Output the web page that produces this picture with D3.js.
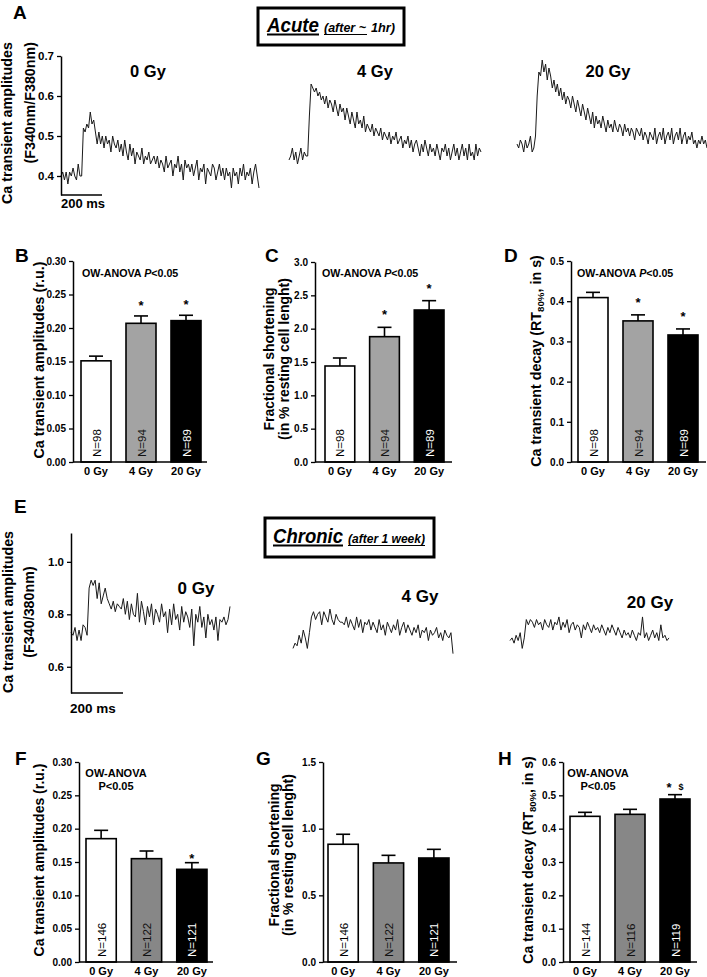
<!DOCTYPE html>
<html><head><meta charset="utf-8">
<script src="https://cdn.jsdelivr.net/npm/d3@7"></script>
<style>
body{margin:0;background:#fff}
svg{display:block}
text{font-family:"Liberation Sans",Arial,sans-serif}
</style>
</head><body><svg id="c" width="707" height="977"></svg>
<script>
// ---------------- DATA ----------------
const doses = ["0 Gy", "4 Gy", "20 Gy"];

// Panel A: acute Ca transients (F340nm/F380nm)
const traceA0 = [0.40,0.41,0.39,0.41,0.38,0.41,0.40,0.42,0.40,0.39,0.43,0.40,0.40,
  0.52,0.51,0.53,0.52,0.56,0.53,0.54,0.51,
  0.48,0.51,0.48,0.50,0.47,0.50,0.48,0.49,0.46,0.50,0.48,0.47,0.49,0.46,
  0.48,0.45,0.49,0.46,0.44,0.48,0.45,0.47,0.43,0.46,0.45,0.44,0.47,0.43,0.45,0.44,0.46,0.43,0.44,0.45,
  0.43,0.45,0.42,0.44,0.43,0.41,0.45,0.42,0.43,0.44,0.40,0.43,0.42,0.45,0.41,0.43,0.39,0.44,0.42,0.43,
  0.41,0.43,0.40,0.42,0.44,0.39,0.42,0.41,0.43,0.38,0.42,0.41,0.40,0.43,0.42,0.39,0.41,0.43,0.40,0.42,
  0.39,0.42,0.40,0.41,0.37,0.42,0.40,0.41,0.38,0.42,0.40,0.43,0.39,0.41,0.40,0.42,0.38,0.41,0.43,0.40,0.37];
const traceA4 = [0.44,0.45,0.47,0.44,0.46,0.43,0.45,0.47,0.44,0.46,0.45,0.45,
  0.55,0.63,0.62,0.61,0.62,0.60,0.61,0.59,0.60,
  0.58,0.60,0.57,0.59,0.58,0.56,0.59,0.57,0.55,0.58,
  0.56,0.57,0.54,0.57,0.55,0.53,0.56,0.54,0.52,0.56,
  0.53,0.54,0.52,0.55,0.51,0.53,0.52,0.51,0.53,0.50,
  0.52,0.51,0.50,0.52,0.49,0.51,0.50,0.49,0.51,0.48,
  0.50,0.49,0.51,0.48,0.49,0.50,0.47,0.49,0.48,0.50,
  0.47,0.49,0.46,0.48,0.49,0.47,0.45,0.48,0.46,0.49,
  0.47,0.45,0.48,0.46,0.47,0.45,0.48,0.46,0.44,0.47,
  0.46,0.48,0.45,0.47,0.44,0.46,0.48,0.45,0.47,0.44,
  0.46,0.48,0.45,0.47,0.44,0.48,0.45,0.46,0.44,0.48,
  0.45,0.47,0.46];
const traceA20 = [0.48,0.47,0.49,0.48,0.46,0.49,0.47,0.48,0.50,0.46,0.47,0.50,
  0.60,0.66,0.65,0.69,0.66,0.68,0.64,0.67,
  0.65,0.62,0.64,0.61,0.63,0.60,0.62,0.59,0.61,0.58,
  0.60,0.59,0.57,0.60,0.58,0.56,0.59,0.57,0.55,0.58,
  0.56,0.54,0.57,0.55,0.53,0.56,0.52,0.55,0.53,0.54,
  0.52,0.55,0.53,0.51,0.54,0.52,0.53,0.51,0.54,0.52,
  0.51,0.53,0.52,0.50,0.53,0.51,0.52,0.50,0.52,0.51,
  0.49,0.52,0.51,0.50,0.52,0.49,0.51,0.50,0.48,0.51,
  0.50,0.49,0.52,0.48,0.50,0.51,0.49,0.52,0.48,0.50,
  0.51,0.49,0.52,0.48,0.50,0.51,0.49,0.52,0.48,0.50,
  0.51,0.48,0.50,0.49,0.51,0.48,0.49,0.47,0.49,0.48,
  0.50,0.48,0.49,0.47];
const traceATicks = [0.4, 0.5, 0.6, 0.7];

// Panel E: chronic Ca transients (F340/380nm)
const traceE0 = [0.73,0.72,0.75,0.70,0.74,0.70,0.76,0.75,0.72,
  0.90,0.93,0.91,0.93,0.86,0.92,0.84,0.87,0.90,0.86,
  0.84,0.82,0.85,0.81,0.84,0.83,0.82,0.86,0.80,0.85,
  0.78,0.84,0.80,0.79,0.88,0.77,0.85,0.81,0.76,0.83,
  0.79,0.84,0.76,0.82,0.80,0.77,0.84,0.79,0.81,0.73,
  0.82,0.76,0.84,0.78,0.80,0.74,0.83,0.77,0.81,0.79,
  0.75,0.82,0.68,0.80,0.77,0.83,0.75,0.79,0.71,0.80,
  0.76,0.78,0.74,0.79,0.70,0.78,0.77,0.79,0.76,0.78,0.83];
const traceE4 = [0.67,0.69,0.68,0.72,0.69,0.74,0.71,0.67,0.73,
  0.79,0.81,0.78,0.80,0.81,0.76,0.81,0.79,0.77,0.82,
  0.78,0.76,0.80,0.78,0.77,0.77,0.76,0.79,0.75,0.78,
  0.76,0.74,0.79,0.75,0.78,0.73,0.77,0.76,0.78,0.74,
  0.77,0.75,0.73,0.78,0.74,0.76,0.72,0.77,0.75,0.73,
  0.76,0.74,0.78,0.72,0.75,0.77,0.73,0.76,0.74,0.72,
  0.75,0.73,0.76,0.71,0.74,0.73,0.75,0.70,0.74,0.72,
  0.73,0.75,0.71,0.73,0.70,0.74,0.72,0.71,0.73,0.65];
const traceE20 = [0.70,0.71,0.69,0.72,0.70,0.73,0.67,0.71,
  0.78,0.76,0.78,0.77,0.75,0.78,0.76,0.77,0.74,0.78,
  0.76,0.75,0.78,0.74,0.77,0.76,0.79,0.74,0.77,0.75,
  0.78,0.73,0.76,0.77,0.74,0.76,0.75,0.71,0.76,0.74,
  0.77,0.75,0.73,0.76,0.74,0.75,0.73,0.76,0.74,0.72,
  0.75,0.73,0.76,0.74,0.72,0.75,0.73,0.71,0.74,0.72,
  0.73,0.71,0.74,0.72,0.70,0.73,0.72,0.79,0.71,0.73,
  0.70,0.72,0.74,0.71,0.73,0.70,0.76,0.71,0.72,0.70,0.71];
const traceETicks = [0.6, 0.8, 1.0];
const scaleBarMs = 200;

// Acute bar data
const acuteAmp = [0.151, 0.207, 0.211];
const acuteAmpErr = [0.007, 0.011, 0.008];
const acuteFS = [1.44, 1.88, 2.28];
const acuteFSErr = [0.12, 0.14, 0.14];
const acuteDecay = [0.409, 0.351, 0.316];
const acuteDecayErr = [0.013, 0.015, 0.015];
const acuteN = ["N=98", "N=94", "N=89"];
const acuteAmpSig = ["", "*", "*"];
const acuteFSSig = ["", "*", "*"];
const acuteDecaySig = ["", "*", "*"];

// Chronic bar data
const chronicAmp = [0.185, 0.155, 0.139];
const chronicAmpErr = [0.0125, 0.0115, 0.010];
const chronicFS = [0.883, 0.743, 0.780];
const chronicFSErr = [0.075, 0.057, 0.065];
const chronicDecay = [0.437, 0.443, 0.489];
const chronicDecayErr = [0.012, 0.015, 0.013];
const chronicN = ["N=146", "N=122", "N=121"];
const chronicDecayN = ["N=144", "N=116", "N=119"];
const chronicAmpSig = ["", "", "*"];
const chronicFSSig = ["", "", ""];
const chronicDecaySig = ["", "", "* $"];

// Tick values
const ampTicks = [0, 0.05, 0.10, 0.15, 0.20, 0.25, 0.30];
const acuteFSTicks = [0, 0.5, 1.0, 1.5, 2.0, 2.5, 3.0];
const decayTicks = [0, 0.1, 0.2, 0.3, 0.4, 0.5];
const chronicFSTicks = [0, 0.5, 1.0, 1.5];
const chronicDecayTicks = [0, 0.1, 0.2, 0.3, 0.4, 0.5, 0.6];

// ---------------- DRAWING ----------------
const svg = d3.select("#c");
const FONT = '"Liberation Sans", Arial, sans-serif';
const acuteFills = ["#ffffff", "#a3a3a3", "#000000"];
const chronicFills = ["#ffffff", "#878787", "#000000"];
const nColors = ["#000", "#111", "#fff"];

function txt(x, y, s, o = {}) {
  const t = svg.append("text").attr("x", x).attr("y", y).text(s)
    .attr("font-size", o.size || 12).attr("font-weight", o.weight || "bold")
    .attr("text-anchor", o.anchor || "start").attr("fill", o.fill || "#000");
  if (o.family) t.attr("font-family", o.family);
  if (o.style) t.attr("font-style", o.style);
  return t;
}

function rotLabel(cx, cy, lines, size, anchor) {
  lines.forEach(l => {
    const t = svg.append("text")
      .attr("transform", `translate(${l.x},${cy}) rotate(-90)`)
      .attr("text-anchor", anchor || "middle")
      .attr("dominant-baseline", "central")
      .attr("font-size", size).attr("font-weight", "bold").attr("fill", "#000");
    if (typeof l.t === "string") t.text(l.t);
    else l.t.forEach(p => {
      const ts = t.append("tspan").text(p.s);
      if (p.sub) ts.attr("font-size", size * 0.68).attr("dy", 4);
      if (p.back) ts.attr("dy", -4);
    });
  });
}

function styleAxis(ax, fs) {
  ax.select(".domain").attr("stroke", "#000").attr("stroke-width", 1.5);
  ax.selectAll(".tick line").attr("stroke", "#000").attr("stroke-width", 1.3);
  ax.selectAll(".tick text").attr("font-size", fs).attr("font-weight", "bold")
    .attr("font-family", FONT).attr("fill", "#000");
}

function barPanel(o) {
  const y = d3.scaleLinear().domain(o.domain).range([o.yBot, o.yTop]);
  const x = d3.scaleBand().domain(doses).range([o.barL, o.barR]).paddingInner(1 / 3).paddingOuter(0);
  const g = svg.append("g");
  const bw = x.bandwidth();
  const cx = i => x(doses[i]) + bw / 2;

  g.selectAll("rect.bar").data(o.values).join("rect").attr("class", "bar")
    .attr("x", (d, i) => x(doses[i])).attr("y", d => y(d))
    .attr("width", bw).attr("height", d => o.yBot - y(d))
    .attr("fill", (d, i) => o.fills[i]).attr("stroke", "#000").attr("stroke-width", 1.6);

  o.values.forEach((v, i) => {
    const top = y(v + o.errs[i]);
    g.append("line").attr("x1", cx(i)).attr("x2", cx(i)).attr("y1", y(v)).attr("y2", top)
      .attr("stroke", "#000").attr("stroke-width", 1.6);
    g.append("line").attr("x1", cx(i) - 7).attr("x2", cx(i) + 7).attr("y1", top).attr("y2", top)
      .attr("stroke", "#000").attr("stroke-width", 1.6);
    if (o.sig[i]) {
      const parts = o.sig[i].split(" ");
      const t = g.append("text").attr("x", parts[1] ? cx(i) - 6 : cx(i)).attr("y", top - o.starGap + 7)
        .attr("text-anchor", "middle").attr("font-size", 13).attr("font-weight", "bold").attr("fill", "#000")
        .text(parts[0]);
      if (parts[1]) g.append("text").attr("x", cx(i) + 6).attr("y", top - o.starGap + 5)
        .attr("text-anchor", "middle").attr("font-size", 9).attr("font-weight", "bold").attr("fill", "#000")
        .text(parts[1]);
    }
    g.append("text").attr("transform", `translate(${cx(i) + 0.5},${o.yBot - 5}) rotate(-90)`)
      .attr("dominant-baseline", "central").attr("font-size", 11.5)
      .attr("fill", nColors[i]).text(o.ns[i]);
  });

  const ax = g.append("g").attr("transform", `translate(${o.axisX},0)`)
    .call(d3.axisLeft(y).tickValues(o.ticks).tickFormat(d3.format(o.fmt)).tickSize(4).tickSizeOuter(0).tickPadding(3));
  styleAxis(ax, 10);
  g.append("line").attr("x1", o.axisX).attr("x2", o.xEnd).attr("y1", o.yBot).attr("y2", o.yBot)
    .attr("stroke", "#000").attr("stroke-width", 1.5);
  doses.forEach((d, i) => {
    g.append("text").attr("x", cx(i)).attr("y", o.yBot + 13).attr("text-anchor", "middle")
      .attr("font-size", 11).attr("font-weight", "bold").attr("fill", "#000").text(d);
  });
}

function tracePath(vals, x0, x1, yScale) {
  const xs = d3.scaleLinear().domain([0, vals.length - 1]).range([x0, x1]);
  svg.append("path").datum(vals)
    .attr("d", d3.line().x((d, i) => xs(i)).y(d => yScale(d)))
    .attr("fill", "none").attr("stroke", "#1a1a1a").attr("stroke-width", 1).attr("stroke-linejoin", "round");
}

function titleBox(bx, by, bw, bh, parts) {
  svg.append("rect").attr("x", bx).attr("y", by).attr("width", bw).attr("height", bh)
    .attr("fill", "#fff").attr("stroke", "#000").attr("stroke-width", 3);
  parts.forEach(p => {
    svg.append("text").attr("x", p.x).attr("y", p.y).text(p.s)
      .attr("font-family", "Lato, 'Open Sans', sans-serif").attr("font-style", "italic").attr("font-weight", "bold")
      .attr("font-size", p.size).attr("textLength", p.len).attr("lengthAdjust", "spacingAndGlyphs").attr("fill", "#000");
    if (p.ul) svg.append("line").attr("x1", p.x).attr("x2", p.x + p.ul).attr("y1", p.y + 2.5).attr("y2", p.y + 2.5)
      .attr("stroke", "#000").attr("stroke-width", p.size > 15 ? 1.8 : 1.2);
  });
}

// ---- Panel letters ----
[["A", 13, 19], ["B", 15, 262], ["C", 265, 262], ["D", 504, 262], ["E", 14, 513],
 ["F", 15, 765], ["G", 256, 765], ["H", 498, 765]].forEach(([s, x, y]) => txt(x, y, s, { size: 19 }));

// ---- Title boxes ----
titleBox(258, 8, 146, 37, [
  { s: "Acute", x: 267, y: 32, size: 21, len: 52, ul: 52 },
  { s: "(after ~", x: 324, y: 32, size: 12, len: 42, ul: 43 },
  { s: "1hr)", x: 371, y: 32, size: 12, len: 24 }
]);
titleBox(265, 518, 169, 39, [
  { s: "Chronic", x: 273, y: 543, size: 21, len: 70, ul: 70 },
  { s: "(after 1 week)", x: 348, y: 543, size: 12, len: 77, ul: 77 }
]);

// ---- Panel A traces ----
const yA = d3.scaleLinear().domain([0.3525, 0.7]).range([195, 56]);
tracePath(traceA0, 61, 259, yA);
tracePath(traceA4, 289, 481, yA);
tracePath(traceA20, 517, 707, yA);
const axA = svg.append("g").attr("transform", "translate(61,0)")
  .call(d3.axisLeft(yA).tickValues(traceATicks).tickFormat(d3.format(".1f")).tickSize(4).tickSizeOuter(0).tickPadding(3));
styleAxis(axA, 11.5);
const tA = d3.scaleLinear().domain([0, scaleBarMs]).range([61, 102]);
svg.append("line").attr("x1", tA(0)).attr("x2", tA(scaleBarMs)).attr("y1", 195).attr("y2", 195)
  .attr("stroke", "#000").attr("stroke-width", 1.5);
txt(61, 208, scaleBarMs + " ms", { size: 13 });
txt(148, 77, doses[0], { size: 16.5, anchor: "middle" });
txt(375, 77, doses[1], { size: 16.5, anchor: "middle" });
txt(608, 77, doses[2], { size: 16.5, anchor: "middle" });
rotLabel(0, 42, [{ x: 7, t: "Ca transient amplitudes" }, { x: 29.5, t: "(F340nm/F380nm)" }], 14.3, "end");

// ---- Panel E traces ----
const yE = d3.scaleLinear().domain([0.5, 1.11]).range([693, 533]);
tracePath(traceE0, 71, 230, yE);
tracePath(traceE4, 293, 453, yE);
tracePath(traceE20, 510, 669, yE);
const axE = svg.append("g").attr("transform", "translate(71,0)")
  .call(d3.axisLeft(yE).tickValues(traceETicks).tickFormat(d3.format(".1f")).tickSize(4).tickSizeOuter(0).tickPadding(3));
styleAxis(axE, 11.5);
const tE = d3.scaleLinear().domain([0, scaleBarMs]).range([71, 123]);
svg.append("line").attr("x1", tE(0)).attr("x2", tE(scaleBarMs)).attr("y1", 693).attr("y2", 693)
  .attr("stroke", "#000").attr("stroke-width", 1.5);
txt(70, 713, scaleBarMs + " ms", { size: 13.5 });
txt(196, 594, doses[0], { size: 17, anchor: "middle" });
txt(420, 602, doses[1], { size: 17, anchor: "middle" });
txt(650, 608, doses[2], { size: 17, anchor: "middle" });
rotLabel(0, 612, [{ x: 8, t: "Ca transient amplitudes" }, { x: 28.5, t: "(F340/380nm)" }], 14.3);

// ---- Bar panels ----
barPanel({ values: acuteAmp, errs: acuteAmpErr, ns: acuteN, sig: acuteAmpSig, fills: acuteFills,
  domain: [0, 0.30], ticks: ampTicks, fmt: ".2f",
  axisX: 73, yTop: 261, yBot: 462, barL: 81, barR: 201, xEnd: 207, starGap: 13 });
barPanel({ values: acuteFS, errs: acuteFSErr, ns: acuteN, sig: acuteFSSig, fills: acuteFills,
  domain: [0, 3.0], ticks: acuteFSTicks, fmt: ".1f",
  axisX: 315, yTop: 262, yBot: 462, barL: 325, barR: 444, xEnd: 452, starGap: 15 });
barPanel({ values: acuteDecay, errs: acuteDecayErr, ns: acuteN, sig: acuteDecaySig, fills: acuteFills,
  domain: [0, 0.5], ticks: decayTicks, fmt: ".1f",
  axisX: 571, yTop: 261, yBot: 462, barL: 578, barR: 698, xEnd: 706, starGap: 15 });
barPanel({ values: chronicAmp, errs: chronicAmpErr, ns: chronicN, sig: chronicAmpSig, fills: chronicFills,
  domain: [0, 0.30], ticks: ampTicks, fmt: ".2f",
  axisX: 79, yTop: 762, yBot: 962, barL: 86, barR: 207, xEnd: 213, starGap: 7 });
barPanel({ values: chronicFS, errs: chronicFSErr, ns: chronicN, sig: chronicFSSig, fills: chronicFills,
  domain: [0, 1.5], ticks: chronicFSTicks, fmt: ".1f",
  axisX: 323, yTop: 762, yBot: 962, barL: 328, barR: 449, xEnd: 457, starGap: 8 });
barPanel({ values: chronicDecay, errs: chronicDecayErr, ns: chronicDecayN, sig: chronicDecaySig, fills: chronicFills,
  domain: [0, 0.6], ticks: chronicDecayTicks, fmt: ".1f",
  axisX: 563, yTop: 762, yBot: 962, barL: 570, barR: 690, xEnd: 697, starGap: 10 });

// ANOVA annotations
function anova(x, y, italicP) {
  const t = txt(x, y, "OW-ANOVA ", { size: 10.7 });
  t.append("tspan").text("P").attr("font-style", italicP ? "italic" : "normal");
  t.append("tspan").text("<0.05");
}
anova(82, 277, true);
anova(322, 277, true);
anova(577, 277, true);
txt(116, 777, "OW-ANOVA", { size: 11, anchor: "middle" });
txt(116, 790, "P<0.05", { size: 11, anchor: "middle" });
txt(598, 777, "OW-ANOVA", { size: 11, anchor: "middle" });
txt(598, 790, "P<0.05", { size: 11, anchor: "middle" });

// Y axis titles of bar panels
rotLabel(0, 360, [{ x: 39, t: "Ca transient amplitudes (r.u.)" }], 14.3);
rotLabel(0, 359, [{ x: 268.5, t: "Fractional shortening" }, { x: 283.5, t: "(in % resting cell lenght)" }], 14);
rotLabel(0, 361, [{ x: 536, t: [{ s: "Ca transient decay (RT" }, { s: "80%", sub: true }, { s: ", in s)", back: true }] }], 14.3);
rotLabel(0, 860, [{ x: 39, t: "Ca transient amplitudes (r.u.)" }], 14);
rotLabel(0, 855, [{ x: 273.5, t: "Fractional shortening" }, { x: 287.5, t: "(in % resting cell lenght)" }], 14);
rotLabel(0, 860, [{ x: 527.5, t: [{ s: "Ca transient decay (RT" }, { s: "80%", sub: true }, { s: ", in s)", back: true }] }], 14);
</script>
</body></html>
